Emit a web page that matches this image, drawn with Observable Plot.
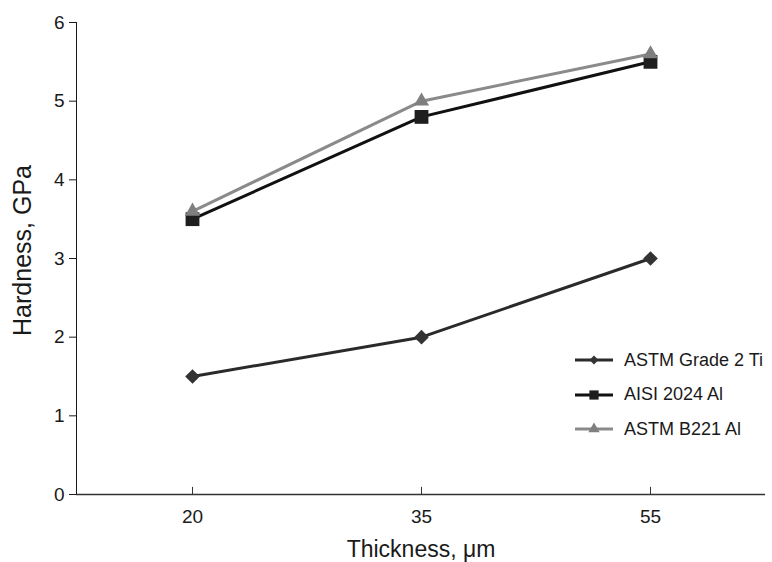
<!DOCTYPE html>
<html>
<head>
<meta charset="utf-8">
<script src="https://cdn.jsdelivr.net/npm/d3@7"></script>
<script src="https://cdn.jsdelivr.net/npm/@observablehq/plot@0.6"></script>
<style>
  body { margin: 0; background: #fff; font-family: "Liberation Sans", Arial, sans-serif; }
  #wrap { position: relative; width: 772px; height: 562px; }
  #legend { position: absolute; left: 574px; top: 343px; font-size: 18px; color: #1a1a1a; }
  #legend .row { display: flex; align-items: center; height: 34.5px; }
  #legend .row span { margin-left: 10px; }
  #legend svg { overflow: visible; }
</style>
</head>
<body>
<div id="wrap"><div id="legend"></div></div>
<script>
const thickness = ["20", "35", "55"];
const seriesNames = ["ASTM Grade 2 Ti", "AISI 2024 Al", "ASTM B221 Al"];
const ti = [1.5, 2.0, 3.0];
const aisi = [3.5, 4.8, 5.5];
const b221 = [3.6, 5.0, 5.6];
const yTicks = [0, 1, 2, 3, 4, 5, 6];

const styles = [
  {stroke: "#2a2a2a", fill: "#333333", symbol: "diamond2", r: 6.6, lr: 4},
  {stroke: "#111111", fill: "#1e1e1e", symbol: "square", r: 7.8, lr: 5.2},
  {stroke: "#8a8a8a", fill: "#7f7f7f", symbol: "triangle", r: 5.6, lr: 4.2}
];
const values = [ti, aisi, b221];
const data = values.map((vals, i) => thickness.map((t, j) => ({series: seriesNames[i], x: t, y: vals[j]})));

const marks = [
  Plot.ruleY([0], {stroke: "#333", strokeWidth: 1.5}),
  Plot.ruleX(thickness, {x: d => d, y1: 0, y2: 0.09, stroke: "#333", strokeWidth: 1}),
  Plot.text(["Hardness, GPa"], {frameAnchor: "left", textAnchor: "middle", lineAnchor: "middle", rotate: -90, dx: -54, dy: -8, fontSize: 25, fill: "#1a1a1a"}),
  Plot.text(["Thickness, μm"], {frameAnchor: "bottom", textAnchor: "middle", lineAnchor: "middle", dy: 55, fontSize: 23, fill: "#1a1a1a"})
];
data.forEach((d, i) => {
  const s = styles[i];
  marks.push(Plot.line(d, {x: "x", y: "y", stroke: s.stroke, strokeWidth: 3}));
  marks.push(Plot.dot(d, {x: "x", y: "y", symbol: () => s.symbol, fill: s.fill, stroke: "none", r: s.r}));
});

const chart = Plot.plot({
  width: 772,
  height: 562,
  marginTop: 22,
  marginBottom: 68,
  marginLeft: 76,
  marginRight: 7,
  style: {fontFamily: "'Liberation Sans', Arial, sans-serif", fontSize: "19px", background: "#fff", color: "#1a1a1a", overflow: "visible"},
  x: {type: "point", domain: thickness, padding: 0.5, tickSize: 0, tickPadding: 15, label: null},
  y: {domain: [0, 6], ticks: yTicks, tickFormat: d3.format("d"), tickSize: 7, tickPadding: 5, line: true, label: null},
  symbol: {type: "identity"},
  marks
});
const wrap = document.getElementById("wrap");
wrap.insertBefore(chart, wrap.firstChild);

// legend (HTML overlay)
const legend = d3.select("#legend");
seriesNames.forEach((name, i) => {
  const s = styles[i];
  const row = legend.append("div").attr("class", "row");
  const sv = row.append("svg").attr("width", 40).attr("height", 16);
  sv.append("line").attr("x1", 1).attr("x2", 39).attr("y1", 8).attr("y2", 8)
    .attr("stroke", s.stroke).attr("stroke-width", 3);
  const sym = {diamond2: d3.symbolDiamond2, square: d3.symbolSquare, triangle: d3.symbolTriangle}[s.symbol];
  sv.append("path").attr("transform", "translate(20,8)")
    .attr("d", d3.symbol(sym, Math.PI * s.lr * s.lr)()).attr("fill", s.fill);
  row.append("span").text(name);
});
</script>
</body>
</html>
